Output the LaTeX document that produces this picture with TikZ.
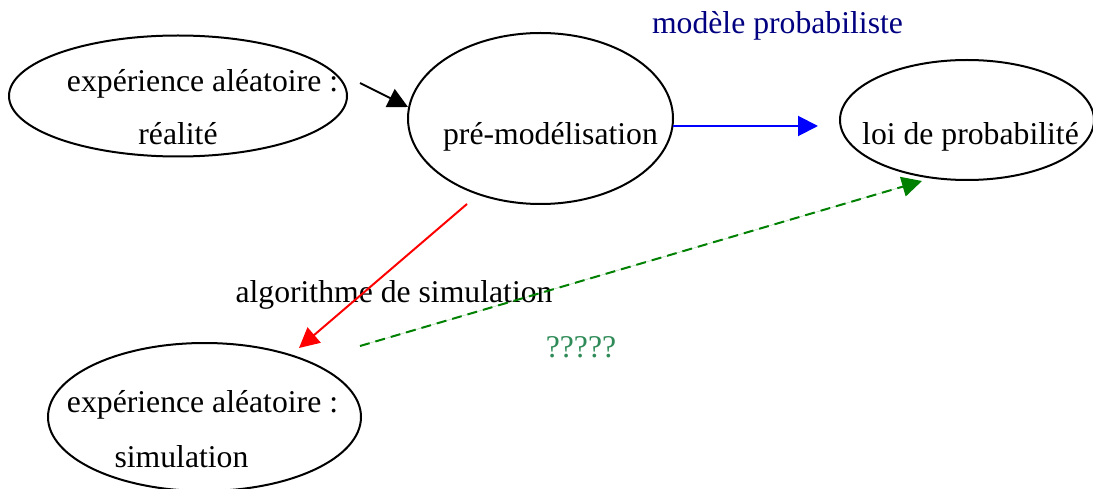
\documentclass[tikz,border=0pt]{standalone}
\usepackage{fontspec}
\setmainfont{Liberation Serif}
\usetikzlibrary{arrows.meta,shapes.geometric}
\definecolor{navyblue}{HTML}{000080}
\definecolor{seagreenq}{HTML}{2E8B57}
\definecolor{darkgreenline}{HTML}{008000}
\tikzset{
  bubble/.style={draw=black, line width=2pt, ellipse, inner sep=0pt},
  lbl/.style={anchor=base, inner sep=0pt, font=\fontsize{31.7}{38}\selectfont},
  tip/.style={-{Triangle[length=20pt,width=20pt]}},
  conn/.style={line width=2pt, tip},
}
\begin{document}
\begin{tikzpicture}[x=1pt,y=-1pt]
\useasboundingbox (0,0) rectangle (1093,489);
% ellipses
\node[bubble, minimum width=338pt, minimum height=121pt] (e1) at (178,96) {};
\node[bubble, minimum width=265pt, minimum height=171pt] (e2) at (540.5,118.5) {};
\node[bubble, minimum width=254pt, minimum height=120pt] (e3) at (967,120) {};
\node[bubble, minimum width=313pt, minimum height=148pt] (e4) at (204.5,417) {};
% texts
\node[lbl] (t1a) at (202.5,92) {expérience aléatoire :};
\node[lbl] (t1b) at (178,145) {réalité};
\node[lbl] (t2) at (550.5,145) {pré-modélisation};
\node[lbl] (t3) at (970.5,145) {loi de probabilité};
\node[lbl] (t4a) at (202.5,412) {expérience aléatoire :};
\node[lbl] (t4b) at (181.5,467) {simulation};
\node[lbl, text=navyblue] (l1) at (777.5,34) {modèle probabiliste};
\node[lbl] (l2) at (394,302) {algorithme de simulation};
\node[lbl, text=seagreenq] (l3) at (581,357) {?????};
% connector ends
\coordinate (a1s) at (360,83);
\coordinate (a1e) at (408,107);
\coordinate (a2s) at (673,126);
\coordinate (a2e) at (818,126);
\coordinate (a3s) at (467,204);
\coordinate (a3e) at (299,348);
\coordinate (a4s) at (360,346);
\coordinate (a4e) at (922,181);
% connectors
\draw[conn, draw=black, fill=black] (a1s) -- (a1e);
\draw[conn, draw=blue, fill=blue] (a2s) -- (a2e);
\draw[conn, draw=red, fill=red] (a3s) -- (a3e);
\draw[conn, draw=darkgreenline, fill=darkgreenline, dash pattern=on 10pt off 6pt] (a4s) -- (a4e);
\end{tikzpicture}
\end{document}
